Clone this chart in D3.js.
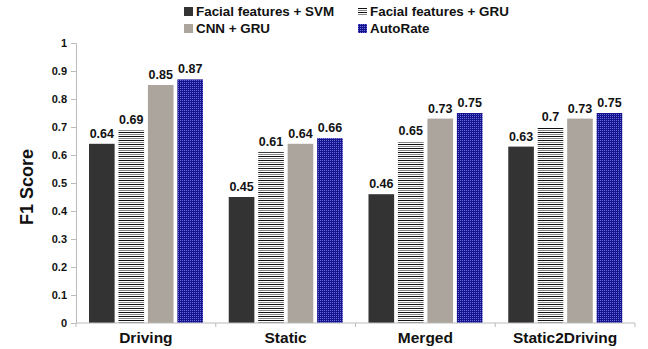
<!DOCTYPE html>
<html><head><meta charset="utf-8">
<script src="https://cdn.jsdelivr.net/npm/d3@7"></script>
<style>body{margin:0;background:#fff}svg{display:block}text{font-family:"Liberation Sans",Arial,sans-serif;font-weight:bold;fill:#111}</style>
</head><body><svg id="c" width="648" height="349"></svg>
<script>
const categories = ["Driving","Static","Merged","Static2Driving"];
const seriesNames = ["Facial features + SVM","Facial features + GRU","CNN + GRU","AutoRate"];
const svmValues = [0.64,0.45,0.46,0.63];
const gruValues = [0.69,0.61,0.65,0.70];
const cnnValues = [0.85,0.64,0.73,0.73];
const autoValues = [0.87,0.66,0.75,0.75];
const yTicks = [0,0.1,0.2,0.3,0.4,0.5,0.6,0.7,0.8,0.9,1];
const yTickLabels = ["0","0.1","0.2","0.3","0.4","0.5","0.6","0.7","0.8","0.9","1"];
const valueLabels = [["0.64","0.45","0.46","0.63"],["0.69","0.61","0.65","0.7"],["0.85","0.64","0.73","0.73"],["0.87","0.66","0.75","0.75"]];

(function(){
const series = [svmValues,gruValues,cnnValues,autoValues];
const fills = ["#333333","url(#stripes)","#aca59e","url(#checks)"];

const svg = d3.select("#c");
const defs = svg.append("defs");
const st = defs.append("pattern").attr("id","stripes").attr("width",4).attr("height",4).attr("patternUnits","userSpaceOnUse");
st.append("rect").attr("width",4).attr("height",4).attr("fill","#fff");
st.append("rect").attr("y",0).attr("width",4).attr("height",1).attr("fill","#111");
st.append("rect").attr("y",2).attr("width",4).attr("height",1).attr("fill","#888");
const ck = defs.append("pattern").attr("id","checks").attr("width",2).attr("height",2).attr("patternUnits","userSpaceOnUse");
ck.append("rect").attr("width",2).attr("height",2).attr("fill","#14148e");
ck.append("rect").attr("x",0).attr("y",0).attr("width",1).attr("height",1).attr("fill","#6a6ad8");

const pL = 76, pR = 635, pT = 43, pB = 323;
const x0 = d3.scaleBand().domain(categories).range([pL,pR]).paddingInner(0).paddingOuter(0);
const x1 = d3.scaleBand().domain(d3.range(4)).range([13,127]).paddingInner(0.13);
const y = d3.scaleLinear().domain([0,1]).range([pB,pT]);

const yAxis = d3.axisLeft(y).tickValues(yTicks).tickFormat((d,i)=>yTickLabels[i]).tickSize(5).tickPadding(4);
const ga = svg.append("g").attr("transform",`translate(${pL},0)`).call(yAxis);
ga.select(".domain").attr("stroke","#bbb");
ga.selectAll(".tick line").attr("stroke","#bbb");
ga.selectAll(".tick text").attr("font-size",11).attr("fill","#111").attr("font-family","Liberation Sans, Arial, sans-serif").attr("font-weight","bold");

categories.forEach((c,ci)=>{
  series.forEach((s,si)=>{
    const bx = x0(c)+x1(si), bw = x1.bandwidth();
    svg.append("rect").attr("x",bx).attr("y",y(s[ci])).attr("width",bw).attr("height",pB-y(s[ci])).attr("fill",fills[si]);
    svg.append("text").attr("x",bx+bw/2).attr("y",y(s[ci])-6).attr("text-anchor","middle").attr("font-size",12.5).text(valueLabels[si][ci]);
  });
});

svg.append("line").attr("x1",pL).attr("x2",pR).attr("y1",pB).attr("y2",pB).attr("stroke","#bbb");
const bounds = categories.map(c=>x0(c)).concat([pR]);
bounds.forEach(b=>svg.append("line").attr("x1",b).attr("x2",b).attr("y1",pB).attr("y2",pB+4).attr("stroke","#bbb"));
categories.forEach(c=>svg.append("text").attr("x",x0(c)+x0.bandwidth()/2).attr("y",343).attr("text-anchor","middle").attr("font-size",15.5).text(c));

svg.append("text").attr("transform","translate(33,187) rotate(-90)").attr("text-anchor","middle").attr("font-size",18).text("F1 Score");

const legPos = [[184,16],[358,16],[184,33],[358,33]];
seriesNames.forEach((n,i)=>{
  const [lx,ly] = legPos[i];
  svg.append("rect").attr("x",lx).attr("y",ly-9).attr("width",9).attr("height",9).attr("fill",fills[i]);
  svg.append("text").attr("x",lx+12).attr("y",ly).attr("font-size",13.4).text(n);
});
})();
</script></body></html>
